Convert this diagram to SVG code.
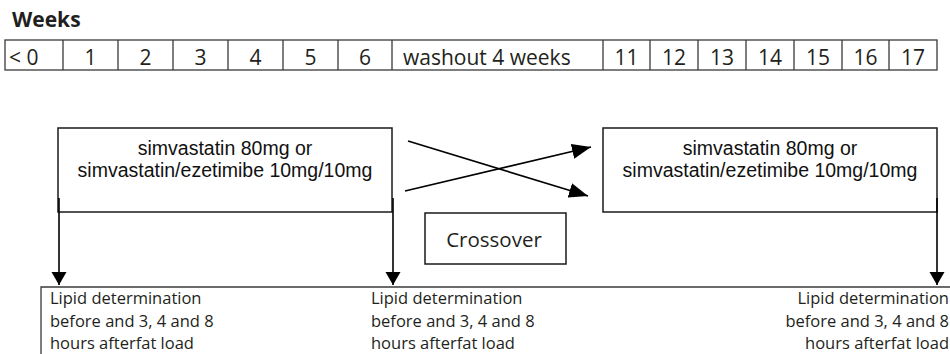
<svg xmlns="http://www.w3.org/2000/svg" width="950" height="354" viewBox="0 0 950 354">
  <style>
    .bg { fill: #ffffff; }
    .cell { fill: none; stroke: #3a3a3a; stroke-width: 1.3; }
    .wk { font-family: "Open Sans", "Noto Sans", sans-serif; font-size: 21px; fill: #231f20; text-anchor: middle; }
    .title { font-family: "Open Sans", "Noto Sans", sans-serif; font-size: 21px; font-weight: bold; fill: #231f20; }
    .box { fill: #ffffff; stroke: #1a1a1a; stroke-width: 1.5; }
    .drug { font-family: "Liberation Sans", Arial, sans-serif; font-size: 19.5px; fill: #111; text-anchor: middle; }
    .cross { font-family: "Open Sans", "Noto Sans", sans-serif; font-size: 20.5px; fill: #231f20; text-anchor: middle; }
    .lipid { font-family: "Open Sans", "Noto Sans", sans-serif; font-size: 16.5px; fill: #231f20; }
    .link { fill: none; stroke: #000; stroke-width: 1.6; }
    .rule { fill: none; stroke: #3a3a3a; stroke-width: 1.3; }
  </style>
  <defs>
    <marker id="headDown" markerUnits="userSpaceOnUse" markerWidth="15" markerHeight="16" refX="13" refY="7.5" orient="auto">
      <path d="M0,0 L13,7.5 L0,15 z" fill="#000"/>
    </marker>
    <marker id="headCross" markerUnits="userSpaceOnUse" markerWidth="20" markerHeight="16" refX="19" refY="7.5" orient="auto">
      <path d="M0,0 L19,7.5 L0,15 z" fill="#000"/>
    </marker>
  </defs>

  <rect class="bg" x="0" y="0" width="950" height="354"/>

  <!-- week timeline -->
  <g id="timeline">
    <text class="title" x="12" y="27">Weeks</text>
    <rect class="cell" x="5" y="40" width="932" height="30"/>
    <path class="cell" d="M63,40 V70 M118,40 V70 M173,40 V70 M228,40 V70 M283,40 V70 M338,40 V70 M392,40 V70 M603,40 V70 M650,40 V70 M698,40 V70 M746,40 V70 M794,40 V70 M842,40 V70 M889,40 V70"/>
    <text class="wk" x="9" y="65" style="text-anchor:start">&lt; 0</text>
    <text class="wk" x="90.5" y="65">1</text>
    <text class="wk" x="145.5" y="65">2</text>
    <text class="wk" x="200.5" y="65">3</text>
    <text class="wk" x="255.5" y="65">4</text>
    <text class="wk" x="310.5" y="65">5</text>
    <text class="wk" x="365" y="65">6</text>
    <text class="wk" x="403" y="65" style="text-anchor:start">washout 4 weeks</text>
    <text class="wk" x="626.5" y="65">11</text>
    <text class="wk" x="674" y="65">12</text>
    <text class="wk" x="722" y="65">13</text>
    <text class="wk" x="770" y="65">14</text>
    <text class="wk" x="818" y="65">15</text>
    <text class="wk" x="865.5" y="65">16</text>
    <text class="wk" x="913" y="65">17</text>
  </g>

  <!-- treatment period 1 -->
  <g id="period1">
    <rect class="box" x="58" y="128" width="334" height="84"/>
    <text class="drug" x="225" y="155">simvastatin 80mg or</text>
    <text class="drug" x="225" y="177">simvastatin/ezetimibe 10mg/10mg</text>
  </g>

  <!-- treatment period 2 -->
  <g id="period2">
    <rect class="box" x="603" y="128" width="334" height="84"/>
    <text class="drug" x="770" y="155">simvastatin 80mg or</text>
    <text class="drug" x="770" y="177">simvastatin/ezetimibe 10mg/10mg</text>
  </g>

  <!-- crossover label -->
  <g id="crossover">
    <rect class="box" x="425" y="213" width="141" height="51"/>
    <text class="cross" x="494" y="247">Crossover</text>
  </g>

  <!-- lipid measurement notes -->
  <g id="lipid-baseline">
    <text class="lipid" x="50" y="304">Lipid determination</text>
    <text class="lipid" x="50" y="327">before and 3, 4 and 8</text>
    <text class="lipid" x="50" y="349">hours afterfat load</text>
  </g>
  <g id="lipid-mid">
    <text class="lipid" x="371" y="304">Lipid determination</text>
    <text class="lipid" x="371" y="327">before and 3, 4 and 8</text>
    <text class="lipid" x="371" y="349">hours afterfat load</text>
  </g>
  <g id="lipid-end">
    <text class="lipid" x="949" y="304" text-anchor="end">Lipid determination</text>
    <text class="lipid" x="949" y="327" text-anchor="end">before and 3, 4 and 8</text>
    <text class="lipid" x="949" y="349" text-anchor="end">hours afterfat load</text>
  </g>

  <!-- connectors -->
  <g id="connectors">
    <path class="rule" d="M41,354 V287 H950"/>
    <line class="link" x1="59" y1="198" x2="59" y2="285" marker-end="url(#headDown)"/>
    <line class="link" x1="393" y1="198" x2="393" y2="285" marker-end="url(#headDown)"/>
    <line class="link" x1="937" y1="198" x2="937" y2="285" marker-end="url(#headDown)"/>
    <line class="link" x1="408" y1="141" x2="588" y2="196" marker-end="url(#headCross)"/>
    <line class="link" x1="405" y1="191" x2="591" y2="147" marker-end="url(#headCross)"/>
  </g>
</svg>
